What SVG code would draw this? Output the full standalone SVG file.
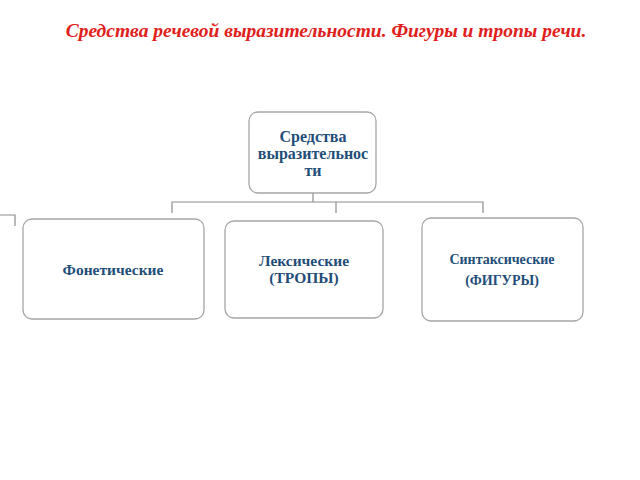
<svg xmlns="http://www.w3.org/2000/svg" width="640" height="480" viewBox="0 0 640 480">
<style>
.box{fill:#fff;stroke:#a6a6a6;stroke-width:1.3}
.lbl{font-family:"Liberation Serif","Times New Roman",serif;font-weight:bold;fill:#1f4e79;text-anchor:middle}
.con{fill:none;stroke:#8c8c8c;stroke-width:1.2}
</style>
<rect width="640" height="480" fill="#fff"/>
<text x="326" y="37" font-family="Liberation Serif,serif" font-style="italic" font-weight="bold" font-size="19.5" fill="#e0201a" text-anchor="middle">Средства речевой выразительности. Фигуры и тропы речи.</text>
<g id="connectors">
<polyline class="con" points="313,193 313,202"/>
<polyline class="con" points="172,213 172,202 483,202 483,213"/>
<polyline class="con" points="336,202 336,213"/>
<polyline class="con" points="0,215 15,215 15,226"/>
</g>
<g id="root">
<rect class="box" x="249" y="112" width="127" height="81" rx="9"/>
<text class="lbl" font-size="16" x="313" y="142">Средства</text>
<text class="lbl" font-size="16" x="313" y="159">выразительнос</text>
<text class="lbl" font-size="16" x="313" y="176">ти</text>
</g>
<g id="phonetic">
<rect class="box" x="23" y="219" width="181" height="100" rx="9"/>
<text class="lbl" font-size="15.5" x="113" y="275">Фонетические</text>
</g>
<g id="lexical">
<rect class="box" x="225" y="221" width="158" height="97" rx="9"/>
<text class="lbl" font-size="15.5" x="304" y="266">Лексические</text>
<text class="lbl" font-size="15.5" x="304" y="283">(ТРОПЫ)</text>
</g>
<g id="syntactic">
<rect class="box" x="422" y="218" width="161" height="103" rx="9"/>
<text class="lbl" font-size="14" x="502" y="264">Синтаксические</text>
<text class="lbl" font-size="14" x="502" y="285">(ФИГУРЫ)</text>
</g>
</svg>
